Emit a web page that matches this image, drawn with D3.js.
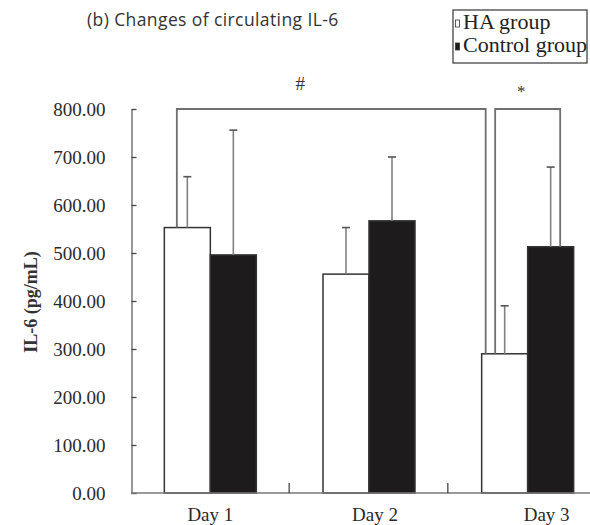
<!DOCTYPE html>
<html>
<head>
<meta charset="utf-8">
<script src="https://cdn.jsdelivr.net/npm/d3@7"></script>
<style>
  html, body { margin: 0; padding: 0; background: #fff; }
  svg { display: block; }
</style>
</head>
<body>
<svg id="chart" width="590" height="525"></svg>
<script>
// IL-6 (pg/mL) by day, mean with upward SD bars
const days = ["Day 1", "Day 2", "Day 3"];
const groups = ["HA group", "Control group"];
const haMean = [553, 456, 290];
const haSD = [106, 97, 100];
const controlMean = [496, 567, 513];
const controlSD = [260, 133, 166];
const yTicks = [0, 100, 200, 300, 400, 500, 600, 700, 800];
// significance brackets: [start day, start group, end day, end group, symbol]
const brackets = [
  ["Day 1", "HA group", "Day 3", "HA group", "#"],
  ["Day 3", "HA group", "Day 3", "Control group", "*"]
];

const rows = [];
days.forEach((d, i) => {
  rows.push({ day: d, group: groups[0], mean: haMean[i], sd: haSD[i] });
  rows.push({ day: d, group: groups[1], mean: controlMean[i], sd: controlSD[i] });
});

const svg = d3.select("#chart");
const serif = "'Liberation Serif', 'Times New Roman', serif";

const x = d3.scaleBand().domain(days).range([131, 607]).padding(0);
const barW = 46;
const xSub = d3.scaleBand().domain(groups)
  .range([x.bandwidth() / 2 - barW, x.bandwidth() / 2 + barW]).padding(0);
const y = d3.scaleLinear().domain([0, 800]).range([493, 109]);

const fills = { "HA group": "#ffffff", "Control group": "#1d1b1b" };

// title
svg.append("text")
  .attr("x", 87).attr("y", 26)
  .attr("font-family", "'Open Sans', sans-serif")
  .attr("font-size", 17.5)
  .attr("letter-spacing", 0.4)
  .attr("fill", "#333")
  .text("(b) Changes of circulating IL-6");

// legend
const lg = svg.append("g");
lg.append("rect").attr("x", 453).attr("y", 10).attr("width", 134).attr("height", 53)
  .attr("fill", "#fff").attr("stroke", "#444").attr("stroke-width", 1.3);
groups.forEach((g, i) => {
  const cy = i === 0 ? 23.5 : 46.5;
  lg.append("rect").attr("x", 455.5).attr("y", cy - 3.5).attr("width", 4).attr("height", 7)
    .attr("fill", fills[g]).attr("stroke", "#333").attr("stroke-width", 0.8);
  lg.append("text").attr("x", 463).attr("y", i === 0 ? 28.5 : 51.5)
    .attr("font-family", serif).attr("font-size", 22).attr("fill", "#222")
    .text(g);
});

// y axis
const yAxis = d3.axisLeft(y)
  .tickValues(yTicks)
  .tickFormat(d3.format(".2f"))
  .tickSizeInner(-5)
  .tickSizeOuter(0)
  .tickPadding(26);
const yg = svg.append("g").attr("transform", "translate(131.5,0)").call(yAxis);
yg.select(".domain").attr("stroke", "#777").attr("stroke-width", 1.5);
yg.selectAll(".tick line").attr("stroke", "#444").attr("stroke-width", 1.3);
yg.selectAll(".tick text")
  .attr("font-family", serif).attr("font-size", 19).attr("fill", "#2a2a2a");

svg.append("text")
  .attr("transform", "translate(37,302) rotate(-90)")
  .attr("text-anchor", "middle")
  .attr("font-family", serif).attr("font-size", 18).attr("font-weight", "bold")
  .attr("fill", "#333")
  .text("IL-6 (pg/mL)");

// bars
const barX = d => x(d.day) + xSub(d.group);
svg.append("g").selectAll("rect").data(rows).join("rect")
  .attr("x", barX)
  .attr("y", d => y(d.mean))
  .attr("width", xSub.bandwidth())
  .attr("height", d => y(0) - y(d.mean))
  .attr("fill", d => fills[d.group])
  .attr("stroke", "#333")
  .attr("stroke-width", 1.5);

// error bars (upper only)
const eg = svg.append("g").attr("stroke", "#808080").attr("stroke-width", 1.6);
rows.forEach(d => {
  const cx = barX(d) + xSub.bandwidth() / 2;
  eg.append("line").attr("x1", cx).attr("x2", cx)
    .attr("y1", y(d.mean)).attr("y2", y(d.mean + d.sd));
  eg.append("line").attr("x1", cx - 4).attr("x2", cx + 4)
    .attr("y1", y(d.mean + d.sd)).attr("y2", y(d.mean + d.sd))
    .attr("stroke", "#555");
});

// x axis
const xg = svg.append("g");
xg.append("line").attr("x1", 131).attr("x2", 590).attr("y1", y(0)).attr("y2", y(0))
  .attr("stroke", "#777").attr("stroke-width", 1.5);
days.slice(1).forEach(d => {
  xg.append("line").attr("x1", x(d) - 0.5).attr("x2", x(d) - 0.5)
    .attr("y1", y(0)).attr("y2", y(0) - 10)
    .attr("stroke", "#444").attr("stroke-width", 1.3);
});
const labelNudge = [0, 6, 19];
days.forEach((d, i) => {
  xg.append("text")
    .attr("x", x(d) + x.bandwidth() / 2 + labelNudge[i])
    .attr("y", 521)
    .attr("text-anchor", "middle")
    .attr("font-family", serif).attr("font-size", 19).attr("fill", "#2a2a2a")
    .text(d);
});

// significance brackets
const bracketInset = [[12.5, 4], [13.5, 32.5]];
const valueOf = (day, group) => rows.find(r => r.day === day && r.group === group).mean;
const bg = svg.append("g");
brackets.forEach((b, i) => {
  const [d1, g1, d2, g2, sym] = b;
  const x1 = x(d1) + xSub(g1) + bracketInset[i][0];
  const x2 = x(d2) + xSub(g2) + bracketInset[i][1];
  const top = y(800);
  bg.append("path")
    .attr("d", `M${x1},${y(valueOf(d1, g1))}V${top}H${x2}V${y(valueOf(d2, g2))}`)
    .attr("fill", "none").attr("stroke", "#6f6f6f").attr("stroke-width", 1.8);
  bg.append("text")
    .attr("x", x1 + 0.4 * (x2 - x1))
    .attr("y", sym === "#" ? 90 : 97)
    .attr("text-anchor", "middle")
    .attr("font-family", serif).attr("font-size", sym === "#" ? 19 : 17)
    .attr("fill", "#333")
    .text(sym);
});
</script>
</body>
</html>
